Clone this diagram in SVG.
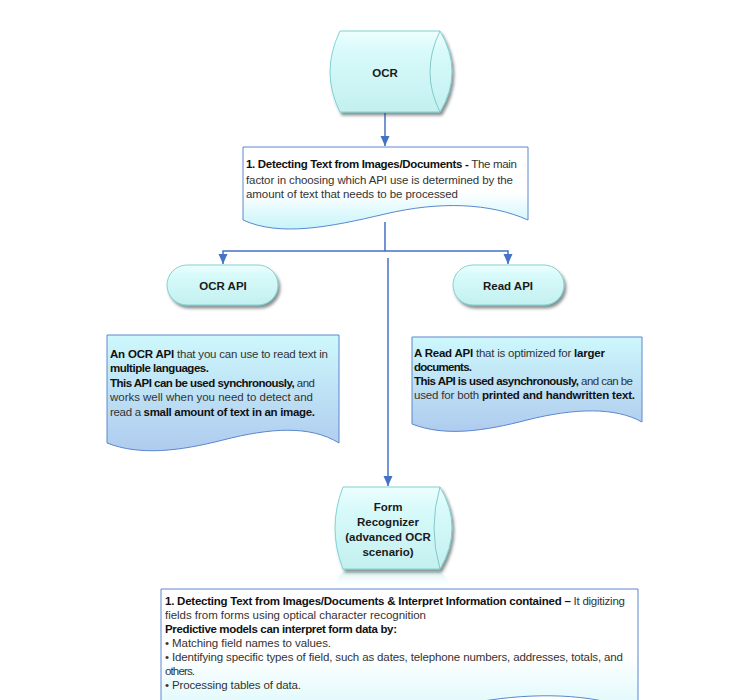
<svg xmlns="http://www.w3.org/2000/svg" width="735" height="700" viewBox="0 0 735 700">
<defs>
<linearGradient id="nodeFill" x1="0" y1="0" x2="0" y2="1">
<stop offset="0" stop-color="#eefefe"/>
<stop offset="0.25" stop-color="#d8fafa"/>
<stop offset="1" stop-color="#c4f0f0"/>
</linearGradient>
<linearGradient id="docWhite" x1="0" y1="0" x2="0" y2="1">
<stop offset="0" stop-color="#ffffff"/>
<stop offset="0.55" stop-color="#ffffff"/>
<stop offset="1" stop-color="#c6f4fa"/>
</linearGradient>
<linearGradient id="docBlue" x1="0" y1="0" x2="0" y2="1">
<stop offset="0" stop-color="#cdf8fc"/>
<stop offset="1" stop-color="#afcbee"/>
</linearGradient>
<linearGradient id="bottomFill" x1="0" y1="0" x2="0" y2="1">
<stop offset="0" stop-color="#ffffff"/>
<stop offset="0.5" stop-color="#ffffff"/>
<stop offset="1" stop-color="#d8f8fb"/>
</linearGradient>
<linearGradient id="reflect" x1="0" y1="0" x2="0" y2="1">
<stop offset="0" stop-color="#cfeeee" stop-opacity="0.8"/>
<stop offset="1" stop-color="#ffffff" stop-opacity="0"/>
</linearGradient>
<filter id="shadow" x="-20%" y="-20%" width="140%" height="150%">
<feDropShadow dx="2" dy="3" stdDeviation="1.6" flood-color="#3a4a4a" flood-opacity="0.6"/>
</filter>
<marker id="arrow" markerUnits="userSpaceOnUse" markerWidth="10" markerHeight="10" refX="10" refY="5" orient="auto">
<path d="M0,0.5 L10,5 L0,9.5 Z" fill="#4472c4"/>
</marker>
<style>
.node{fill:url(#nodeFill);stroke:#7fd3d3;stroke-width:1;filter:url(#shadow)}
.inner{fill:none;stroke:#6fbcbc;stroke-width:0.8}
.doc{stroke:#5b87cf;stroke-width:1}
.lbl{font-family:"Liberation Sans",Arial,sans-serif;font-size:11.5px;font-weight:bold;fill:#1a1a1a;text-anchor:middle}
.t{font-family:"Liberation Sans",Arial,sans-serif;font-size:11.5px;fill:#333333}
.b{font-weight:bold;fill:#111111}
.conn{fill:none;stroke:#4472c4;stroke-width:1.5}
</style>
</defs>

<g id="connectors">
<path class="conn" d="M385,113 V146" marker-end="url(#arrow)"/>
<path class="conn" d="M385,222 V251 H223 V264" marker-end="url(#arrow)"/>
<path class="conn" d="M385,251 H508 V264" marker-end="url(#arrow)"/>
<path class="conn" d="M388,258 V486" marker-end="url(#arrow)"/>
</g>

<g id="node-ocr">
<path class="node" d="M340,31 L440,31 Q464,72 440,112 L340,112 Q320,72 340,31 Z"/>
<path class="inner" d="M440,31 Q420,72 440,112"/>
<text class="lbl" x="385" y="77">OCR</text>
</g>

<g id="node-detect">
<path class="doc" fill="url(#docWhite)" d="M243,147 H528 V220 C490,203 440,201 385,214 C330,227 280,237 243,220 Z"/>
<text class="t" x="246" y="168" textLength="271" lengthAdjust="spacing"><tspan class="b">1. Detecting Text from Images/Documents - </tspan>The main</text>
<text class="t" x="246" y="184" textLength="267" lengthAdjust="spacing">factor in choosing which API use is determined by the</text>
<text class="t" x="246" y="198" textLength="212" lengthAdjust="spacing">amount of text that needs to be processed</text>
</g>

<g id="node-ocrapi">
<rect class="node" x="167" y="265" width="111" height="40" rx="20" ry="20"/>
<text class="lbl" x="223" y="290">OCR API</text>
</g>

<g id="node-readapi">
<rect class="node" x="453" y="265" width="111" height="40" rx="20" ry="20"/>
<text class="lbl" x="508" y="290">Read API</text>
</g>

<g id="node-ocrapi-desc">
<path class="doc" fill="url(#docBlue)" d="M107,335 H339 V443 C310,425 270,428 223,440 C180,451 140,456 107,443 Z"/>
<text class="t" x="110" y="358" textLength="218" lengthAdjust="spacing"><tspan class="b">An OCR API</tspan> that you can use to read text in</text>
<text class="t" x="110" y="372" textLength="99" lengthAdjust="spacing"><tspan class="b">multiple languages.</tspan></text>
<text class="t" x="110" y="387" textLength="205" lengthAdjust="spacing"><tspan class="b">This API can be used synchronously,</tspan> and</text>
<text class="t" x="110" y="401" textLength="203" lengthAdjust="spacing">works well when you need to detect and</text>
<text class="t" x="110" y="416" textLength="205" lengthAdjust="spacing">read a <tspan class="b">small amount of text in an image.</tspan></text>
</g>

<g id="node-readapi-desc">
<path class="doc" fill="url(#docBlue)" d="M412,337 H642 V422 C615,407 575,408 527,420 C485,431 445,437 412,424 Z"/>
<text class="t" x="414" y="357" textLength="191" lengthAdjust="spacing"><tspan class="b">A Read API</tspan> that is optimized for <tspan class="b">larger</tspan></text>
<text class="t" x="414" y="371" textLength="58" lengthAdjust="spacing"><tspan class="b">documents.</tspan></text>
<text class="t" x="414" y="385" textLength="219" lengthAdjust="spacing"><tspan class="b">This API is used asynchronously,</tspan> and can be</text>
<text class="t" x="414" y="399" textLength="221" lengthAdjust="spacing">used for both <tspan class="b">printed and handwritten text.</tspan></text>
</g>

<g id="node-form">
<path d="M343,572 L440,572 Q452,580 448,588 L337,588 Q333,580 343,572 Z" fill="url(#reflect)"/>
<path class="node" d="M343,487 L440,487 Q464,528 440,569 L343,569 Q327,528 343,487 Z"/>
<path class="inner" d="M440,487 Q428,528 440,569"/>
<text class="lbl" x="388" y="511">Form</text>
<text class="lbl" x="388" y="526">Recognizer</text>
<text class="lbl" x="388" y="541">(advanced OCR</text>
<text class="lbl" x="388" y="556">scenario)</text>
</g>

<g id="node-form-desc">
<path class="doc" fill="url(#bottomFill)" d="M161,589 H638 V712 C600,695 545,692 490,700 C400,714 240,730 161,712 Z"/>
<text class="t" x="165" y="605" textLength="460" lengthAdjust="spacing"><tspan class="b">1. Detecting Text from Images/Documents &amp; Interpret Information contained –</tspan> It digitizing</text>
<text class="t" x="165" y="619" textLength="261" lengthAdjust="spacing">fields from forms using optical character recognition</text>
<text class="t" x="165" y="633" textLength="232" lengthAdjust="spacing"><tspan class="b">Predictive models can interpret form data by:</tspan></text>
<text class="t" x="165" y="647" textLength="166" lengthAdjust="spacing">• Matching field names to values.</text>
<text class="t" x="165" y="661" textLength="458" lengthAdjust="spacing">• Identifying specific types of field, such as dates, telephone numbers, addresses, totals, and</text>
<text class="t" x="165" y="675" textLength="30" lengthAdjust="spacing">others.</text>
<text class="t" x="165" y="689" textLength="136" lengthAdjust="spacing">• Processing tables of data.</text>
</g>
</svg>
